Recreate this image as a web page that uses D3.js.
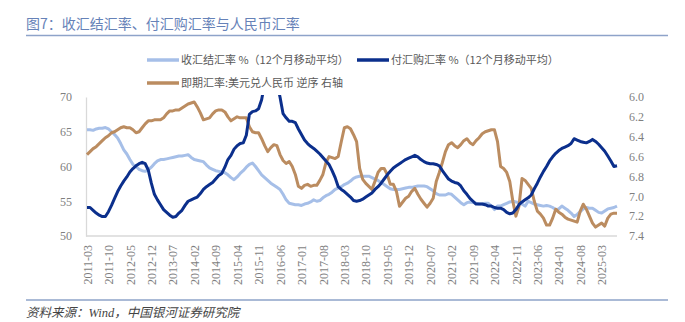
<!DOCTYPE html>
<html>
<head>
<meta charset="utf-8">
<script src="https://cdn.jsdelivr.net/npm/d3@7"></script>
<style>
body { margin: 0; background: #fff; }
</style>
</head>
<body>
<div id="chart"></div>
<script>
// 收汇结汇率 % (12个月移动平均), 2011-03 .. 2025-08, monthly
var settleRate = [
    65.3, 65.3, 65.2, 65.4, 65.5, 65.5, 65.6, 65.4, 65.0, 64.6,
    64.1, 63.3, 62.4, 61.8, 61.0, 60.3, 60.0, 59.6, 59.4, 59.3, 59.5, 59.9,
    60.4, 60.8, 61.0, 61.0, 61.1, 61.2, 61.3, 61.4, 61.5, 61.5, 61.6, 61.7,
    61.3, 61.0, 60.9, 60.8, 60.7, 60.2, 59.8, 59.6, 59.4, 59.3, 59.2, 59.1,
    58.8, 58.4, 58.1, 58.5, 59.0, 59.4, 59.9, 60.3, 60.5, 60.0, 59.4, 58.8,
    58.4, 58.0, 57.6, 57.3, 57.0, 56.7, 56.0, 55.2, 54.7, 54.6, 54.5, 54.5,
    54.4, 54.6, 54.7, 54.9, 55.2, 55.0, 55.1, 55.5, 55.8, 56.0, 56.3, 56.7,
    56.9, 57.1, 57.4, 57.6, 57.9, 58.3, 58.5, 58.6, 58.6, 58.6, 58.6, 58.4,
    58.2, 58.0, 57.7, 57.4, 57.1, 56.8, 56.7, 56.7, 56.7, 56.8, 56.9, 57.0,
    57.0, 57.1, 57.2, 57.2, 57.2, 57.1, 56.8, 56.5, 56.1, 55.9, 55.9, 55.9,
    56.1, 56.0, 55.6, 55.2, 54.8, 54.5, 54.8, 54.9, 54.8, 54.7, 54.6, 54.6,
    54.7, 54.7, 54.3, 53.8, 54.3, 54.3, 54.5, 54.7, 54.9, 55.0, 54.9, 54.8,
    54.6, 54.3, 55.0, 54.8, 54.6, 54.5, 54.4, 54.3, 54.4, 54.3, 54.1, 53.8,
    53.9, 54.3, 54.0, 53.7, 53.3, 52.8, 53.1, 53.5, 53.9, 54.1, 54.0, 54.0,
    53.7, 53.4, 53.3, 53.6, 53.9, 54.0, 54.1, 54.3
];

// 付汇购汇率 % (12个月移动平均)
var purchaseRate = [
    54.1, 54.1, 53.7, 53.3, 53.0, 52.8, 52.8, 53.5, 54.4, 55.4,
    56.4, 57.2, 57.9, 58.5, 59.2, 59.7, 60.1, 60.4, 60.6, 60.4, 59.5, 57.6,
    56.0, 55.2, 54.5, 53.8, 53.4, 53.0, 52.7, 52.8, 53.3, 53.7, 54.4, 55.0,
    55.2, 55.4, 55.6, 56.1, 56.7, 57.1, 57.4, 57.7, 58.2, 58.7, 59.0, 59.9,
    61.0, 61.6, 62.5, 63.0, 63.3, 63.4, 64.5, 67.5, 67.9, 68.0, 68.3, 69.6,
    72.0, 73.5, 74.5, 74.0, 72.0, 70.0, 67.6, 67.0, 66.5, 66.5, 66.3, 65.4,
    64.6, 63.8, 63.3, 62.9, 62.6, 62.2, 61.8, 61.3, 60.8, 60.3, 59.4, 58.4,
    57.1, 56.7, 56.4, 56.0, 55.6, 55.1, 55.0, 55.1, 55.3, 55.6, 55.9, 56.2,
    56.7, 57.1, 57.6, 58.2, 58.8, 59.3, 59.8, 60.1, 60.4, 60.7, 61.0, 61.2,
    61.4, 61.6, 61.4, 61.0, 60.7, 60.5, 60.4, 60.4, 60.3, 60.1, 59.4, 58.8,
    58.2, 57.9, 57.7, 57.6, 57.2, 56.5, 56.0, 55.4, 55.0, 54.6, 54.6, 54.6,
    54.5, 54.3, 54.3, 54.1, 54.0, 54.0, 53.8, 53.4, 53.2, 53.3, 53.8, 54.5,
    54.9, 55.2, 55.5, 55.9, 56.8, 57.6, 58.5, 59.3, 60.0, 60.8, 61.4, 61.9,
    62.3, 62.6, 62.8, 63.0, 63.3, 64.0, 63.8, 63.6, 63.5, 63.4, 63.6, 63.9,
    63.6, 63.2, 62.7, 62.2, 61.5, 60.8, 60.0, 60.1
];

// 即期汇率:美元兑人民币 (right axis, reversed)
var spotRate = [
    6.58, 6.55, 6.52, 6.50, 6.47, 6.44, 6.41, 6.39, 6.36, 6.35,
    6.33, 6.31, 6.30, 6.31, 6.31, 6.33, 6.36, 6.35, 6.31, 6.27, 6.24, 6.24,
    6.23, 6.23, 6.23, 6.21, 6.17, 6.14, 6.14, 6.13, 6.13, 6.11, 6.09, 6.07,
    6.06, 6.05, 6.10, 6.16, 6.23, 6.22, 6.21, 6.17, 6.14, 6.13, 6.13, 6.15,
    6.20, 6.24, 6.22, 6.20, 6.21, 6.21, 6.21, 6.30, 6.35, 6.36, 6.36, 6.42,
    6.49, 6.55, 6.51, 6.48, 6.49, 6.58, 6.64, 6.67, 6.65, 6.70, 6.78, 6.90,
    6.92, 6.89, 6.88, 6.90, 6.89, 6.89, 6.84, 6.78, 6.66, 6.60, 6.61, 6.62,
    6.60, 6.45, 6.31, 6.30, 6.32, 6.38, 6.45, 6.72, 6.83, 6.87, 6.90, 6.93,
    6.85, 6.76, 6.72, 6.72, 6.78, 6.88, 6.88, 6.95, 7.10, 7.06, 7.02, 7.00,
    6.95, 6.92, 6.98, 7.03, 7.07, 7.11, 7.07, 7.02, 6.85, 6.76, 6.66, 6.55,
    6.48, 6.46, 6.49, 6.51, 6.48, 6.44, 6.42, 6.46, 6.48, 6.44, 6.41, 6.37,
    6.35, 6.34, 6.33, 6.33, 6.45, 6.70, 6.72, 6.76, 6.85, 7.05, 7.20, 7.10,
    6.82, 6.84, 6.88, 6.92, 7.05, 7.15, 7.18, 7.22, 7.29, 7.29, 7.22, 7.13,
    7.16, 7.18, 7.21, 7.23, 7.24, 7.25, 7.26, 7.15, 7.08, 7.13, 7.20, 7.27,
    7.31, 7.29, 7.27, 7.30, 7.22, 7.18, 7.17, 7.17
];

var xTickLabels = [
    "2011-03", "2011-10", "2012-05", "2012-12", "2013-07", "2014-02", "2014-09",
    "2015-04", "2015-11", "2016-06", "2017-01", "2017-08", "2018-03", "2018-10",
    "2019-05", "2019-12", "2020-07", "2021-02", "2021-09", "2022-04", "2022-11",
    "2023-06", "2024-01", "2024-08", "2025-03"
];
var leftTicks = [50, 55, 60, 65, 70];
var rightTicks = [6.0, 6.2, 6.4, 6.6, 6.8, 7.0, 7.2, 7.4];

var fmtMonth = d3.timeFormat("%Y-%m");
var months = d3.timeMonth.range(new Date(2011, 2, 1), new Date(2011, 2 + settleRate.length, 1)).map(fmtMonth);

var width = 685, height = 322;
var plot = {left: 87, right: 617, top: 97, bottom: 236};

var svg = d3.select("#chart")
    .append("svg")
    .attr("width", width)
    .attr("height", height);

var x = d3.scalePoint()
    .domain(months)
    .range([plot.left, plot.right]);

var yLeft = d3.scaleLinear()
    .domain([50, 70])
    .range([plot.bottom, plot.top]);

var yRight = d3.scaleLinear()
    .domain([6.0, 7.4])
    .range([plot.top, plot.bottom]);

// title + rules
svg.append("text")
    .attr("x", 26)
    .attr("y", 29)
    .attr("font-family", "Noto Sans CJK SC")
    .attr("font-size", 14)
    .attr("fill", "#6682b8")
    .text("图7：收汇结汇率、付汇购汇率与人民币汇率");

svg.append("line")
    .attr("x1", 26).attr("x2", 668)
    .attr("y1", 35.5).attr("y2", 35.5)
    .attr("stroke", "#8ea3c9")
    .attr("stroke-width", 1.5);

svg.append("line")
    .attr("x1", 26).attr("x2", 668)
    .attr("y1", 300).attr("y2", 300)
    .attr("stroke", "#8ea3c9")
    .attr("stroke-width", 1.5);

svg.append("text")
    .attr("x", 26)
    .attr("y", 317)
    .attr("font-family", "Liberation Serif, Noto Sans CJK SC")
    .attr("font-style", "italic")
    .attr("font-size", 12.5)
    .attr("fill", "#444")
    .text("资料来源：Wind，中国银河证券研究院");

// legend
var legend = [
    {name: "收汇结汇率 %（12个月移动平均）", color: "#a6bfe8", x: 147, y: 60},
    {name: "付汇购汇率 %（12个月移动平均）", color: "#0b2f8c", x: 357, y: 60},
    {name: "即期汇率:美元兑人民币 逆序 右轴", color: "#bb8c60", x: 147, y: 83}
];

var lg = svg.selectAll(".legend")
    .data(legend)
    .enter()
    .append("g")
    .attr("class", "legend")
    .attr("transform", function(d) { return "translate(" + d.x + "," + d.y + ")"; });

lg.append("line")
    .attr("x1", 0).attr("x2", 32)
    .attr("stroke", function(d) { return d.color; })
    .attr("stroke-width", 3.5);

lg.append("text")
    .attr("x", 34)
    .attr("dy", "0.35em")
    .attr("font-family", "Noto Sans CJK SC")
    .attr("font-size", 11)
    .attr("fill", "#595959")
    .text(function(d) { return d.name; });

// axes
var leftAxis = svg.append("g")
    .attr("transform", "translate(" + (plot.left - 1) + ",0)")
    .call(d3.axisLeft(yLeft).tickValues(leftTicks).tickSize(0).tickPadding(14));

var rightAxis = svg.append("g")
    .attr("transform", "translate(" + plot.right + ",0)")
    .call(d3.axisRight(yRight).tickValues(rightTicks).tickSize(0).tickPadding(12).tickFormat(d3.format(".1f")));
rightAxis.select(".domain").remove();

var bottomAxis = svg.append("g")
    .attr("transform", "translate(0," + plot.bottom + ")")
    .call(d3.axisBottom(x).tickValues(xTickLabels).tickSize(0));
bottomAxis.select(".domain")
    .attr("d", "M" + (plot.left - 1) + ",0H" + plot.right);

bottomAxis.selectAll("text")
    .attr("transform", "rotate(-90)")
    .attr("x", -9)
    .attr("y", 0)
    .attr("dy", "0.35em")
    .style("text-anchor", "end");

svg.selectAll(".domain")
    .attr("stroke", "#d9d9d9")
    .attr("stroke-width", 1.3);

svg.selectAll(".tick text")
    .attr("font-family", "Liberation Serif")
    .attr("font-size", 12)
    .attr("fill", "#7f7f7f");

// lines
svg.append("clipPath")
    .attr("id", "clip")
    .append("rect")
    .attr("x", plot.left - 2)
    .attr("y", plot.top - 2)
    .attr("width", plot.right - plot.left + 4)
    .attr("height", plot.bottom - plot.top + 4);

var lineLeft = d3.line()
    .x(function(d, i) { return x(months[i]); })
    .y(function(d) { return yLeft(d); });

var lineRight = d3.line()
    .x(function(d, i) { return x(months[i]); })
    .y(function(d) { return yRight(d); });

var lines = svg.append("g").attr("clip-path", "url(#clip)");

lines.append("path")
    .datum(settleRate)
    .attr("d", lineLeft)
    .attr("fill", "none")
    .attr("stroke", "#a6bfe8")
    .attr("stroke-width", 3)
    .attr("stroke-linejoin", "round");

lines.append("path")
    .datum(spotRate)
    .attr("d", lineRight)
    .attr("fill", "none")
    .attr("stroke", "#bb8c60")
    .attr("stroke-width", 3)
    .attr("stroke-linejoin", "round");

lines.append("path")
    .datum(purchaseRate)
    .attr("d", lineLeft)
    .attr("fill", "none")
    .attr("stroke", "#0b2f8c")
    .attr("stroke-width", 3)
    .attr("stroke-linejoin", "round");
</script>
</body>
</html>
